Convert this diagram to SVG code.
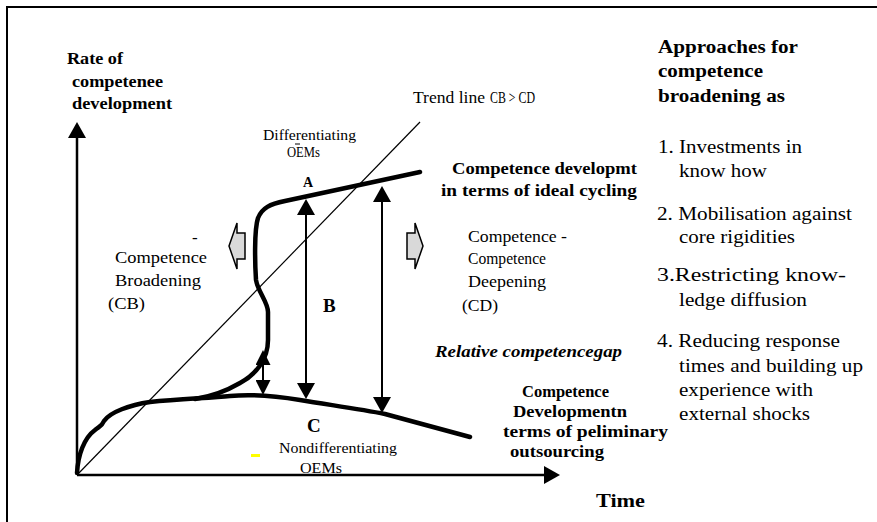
<svg xmlns="http://www.w3.org/2000/svg" width="877" height="522" viewBox="0 0 877 522">
<style>
.t{font-family:"Liberation Serif","Times New Roman",serif;fill:#000}
.b{font-weight:bold}
.i{font-style:italic}
.ax{stroke:#000;stroke-width:2.5;fill:none}
.ar{stroke:#000;stroke-width:2;fill:none}
.thick{stroke:#000;stroke-width:4.5;fill:none;stroke-linecap:round;stroke-linejoin:round}
.blk{fill:#d9d9d9;stroke:#000;stroke-width:1.5;stroke-linejoin:miter}
</style>
<defs>
<marker id="ah" viewBox="0 0 16 18" refX="4" refY="9" markerWidth="16" markerHeight="18" markerUnits="userSpaceOnUse" orient="auto-start-reverse"><path d="M0,0 L16,9 L0,18 z" fill="#000"/></marker>
<marker id="sh" viewBox="0 0 15 15" refX="3" refY="7.5" markerWidth="15" markerHeight="15" markerUnits="userSpaceOnUse" orient="auto-start-reverse"><path d="M0,0 L15,7.5 L0,15 z" fill="#000"/></marker>
</defs>
<rect width="877" height="522" fill="#fff"/>
<path d="M7,522 V7 H877" fill="none" stroke="#000" stroke-width="2"/>

<g id="connectors">
<line id="y-axis" class="ax" x1="77" y1="475" x2="77" y2="134" marker-end="url(#ah)"/>
<line id="x-axis" class="ax" x1="77" y1="475" x2="548" y2="475" marker-end="url(#ah)"/>
<line id="trendline" x1="77" y1="475" x2="420" y2="122" stroke="#000" stroke-width="1.2"/>
<path id="curve-ideal" class="thick" d="M420,172 L285,201 C270,204 262,208 258,218 C254,230 255,265 256,280 C258,292 268,302 268,312 L268,340 C268,360 255,375 240,383 C228,390 215,396 195,399"/>
<path id="curve-preliminary" class="thick" d="M77,473 C78,455 84,438 95,430 C100,426 102,426 104,421 C110,412 130,405 150,402 C180,399 210,398 230,396 C250,394 270,395 300,400 C330,405 360,409 385,414 L470,437"/>
<line id="gap-A" class="ar" x1="306" y1="211" x2="306" y2="387" marker-start="url(#ah)" marker-end="url(#ah)"/>
<line id="gap-right" class="ar" x1="382" y1="198" x2="382" y2="401" marker-start="url(#ah)" marker-end="url(#ah)"/>
<line id="gap-small" class="ar" x1="263" y1="362" x2="263" y2="383" marker-start="url(#sh)" marker-end="url(#sh)"/>
<polygon id="arrow-cb" class="blk" points="229,246 237,223 237,233 245,233 245,259 237,259 237,269"/>
<polygon id="arrow-cd" class="blk" points="407,233 415,233 415,223 423,246 415,269 415,259 407,259"/>
</g>

<g id="label-yaxis" class="t b" font-size="17">
<text x="67" y="64" textLength="56" lengthAdjust="spacingAndGlyphs">Rate of</text>
<text x="72" y="87" textLength="91" lengthAdjust="spacingAndGlyphs">competenee</text>
<text x="72" y="109" textLength="100" lengthAdjust="spacingAndGlyphs">development</text>
</g>

<g id="label-trend" class="t" font-size="16">
<text x="413" y="103" textLength="72" lengthAdjust="spacingAndGlyphs">Trend line</text>
<text x="490" y="103" textLength="45" lengthAdjust="spacingAndGlyphs">CB &gt; CD</text>
</g>

<g id="label-diff" class="t" font-size="14.5">
<text x="263" y="140" textLength="93" lengthAdjust="spacingAndGlyphs">Differentiating</text>
<line x1="295" y1="144" x2="300" y2="144" stroke="#000" stroke-width="1"/>
<text x="287" y="157" textLength="33" lengthAdjust="spacingAndGlyphs">OEMs</text>
</g>
<g id="label-A"><text class="t b" font-size="14" x="303" y="187">A</text></g>
<g id="label-B"><text class="t b" font-size="19" x="323" y="312">B</text></g>
<g id="label-C"><text class="t b" font-size="19" x="307" y="432">C</text></g>

<g id="label-cb" class="t" font-size="17">
<text x="192" y="243">-</text>
<text x="115" y="263" textLength="92" lengthAdjust="spacingAndGlyphs">Competence</text>
<text x="115" y="286" textLength="86" lengthAdjust="spacingAndGlyphs">Broadening</text>
<text x="108" y="309" textLength="37" lengthAdjust="spacingAndGlyphs">(CB)</text>
</g>

<g id="label-cd" class="t" font-size="16">
<text x="468" y="242" textLength="99" lengthAdjust="spacingAndGlyphs">Competence -</text>
<text x="468" y="264" textLength="78" lengthAdjust="spacingAndGlyphs">Competence</text>
<text x="468" y="287" textLength="78" lengthAdjust="spacingAndGlyphs">Deepening</text>
<text x="462" y="311" textLength="36" lengthAdjust="spacingAndGlyphs">(CD)</text>
</g>

<g id="label-ideal" class="t b" font-size="16.5">
<text x="452" y="174" textLength="185" lengthAdjust="spacingAndGlyphs">Competence developmt</text>
<text x="441" y="196" textLength="196" lengthAdjust="spacingAndGlyphs">in  terms  of ideal cycling</text>
</g>

<g id="label-gap"><text class="t b i" font-size="16" x="435" y="357" textLength="187" lengthAdjust="spacingAndGlyphs">Relative  competencegap</text></g>

<g id="label-prelim" class="t b" font-size="16.5">
<text x="522" y="397" textLength="87" lengthAdjust="spacingAndGlyphs">Competence</text>
<text x="513" y="417" textLength="114" lengthAdjust="spacingAndGlyphs">Developmentn</text>
<text x="503" y="437" textLength="165" lengthAdjust="spacingAndGlyphs">terms of   peliminary</text>
<text x="510" y="457" textLength="94" lengthAdjust="spacingAndGlyphs">outsourcing</text>
</g>

<g id="label-nondiff" class="t" font-size="15">
<rect x="251" y="454" width="9" height="3" fill="#ffff00"/>
<text x="279" y="453" textLength="118" lengthAdjust="spacingAndGlyphs">Nondifferentiating</text>
<text x="300" y="473" textLength="42" lengthAdjust="spacingAndGlyphs">OEMs</text>
</g>

<g id="label-time"><text class="t b" font-size="18" x="596" y="507" textLength="49" lengthAdjust="spacingAndGlyphs">Time</text></g>

<g id="approaches" class="t b" font-size="18.5">
<text x="658" y="53" textLength="140" lengthAdjust="spacingAndGlyphs">Approaches for</text>
<text x="658" y="77" textLength="105" lengthAdjust="spacingAndGlyphs">competence</text>
<text x="658" y="102" textLength="127" lengthAdjust="spacingAndGlyphs">broadening as</text>
</g>

<g id="list" class="t" font-size="18.5">
<text x="658" y="153" textLength="144" lengthAdjust="spacingAndGlyphs">1. Investments in</text>
<text x="679" y="177" textLength="88" lengthAdjust="spacingAndGlyphs">know how</text>
<text x="657" y="220" textLength="195" lengthAdjust="spacingAndGlyphs">2. Mobilisation against</text>
<text x="679" y="243" textLength="116" lengthAdjust="spacingAndGlyphs">core rigidities</text>
<text x="657" y="281" textLength="189" lengthAdjust="spacingAndGlyphs">3.Restricting know-</text>
<text x="679" y="306" textLength="128" lengthAdjust="spacingAndGlyphs">ledge diffusion</text>
<text x="657" y="347" textLength="183" lengthAdjust="spacingAndGlyphs">4. Reducing response</text>
<text x="679" y="372" textLength="184" lengthAdjust="spacingAndGlyphs">times and building up</text>
<text x="679" y="396" textLength="134" lengthAdjust="spacingAndGlyphs">experience with</text>
<text x="679" y="420" textLength="131" lengthAdjust="spacingAndGlyphs">external shocks</text>
</g>
</svg>
